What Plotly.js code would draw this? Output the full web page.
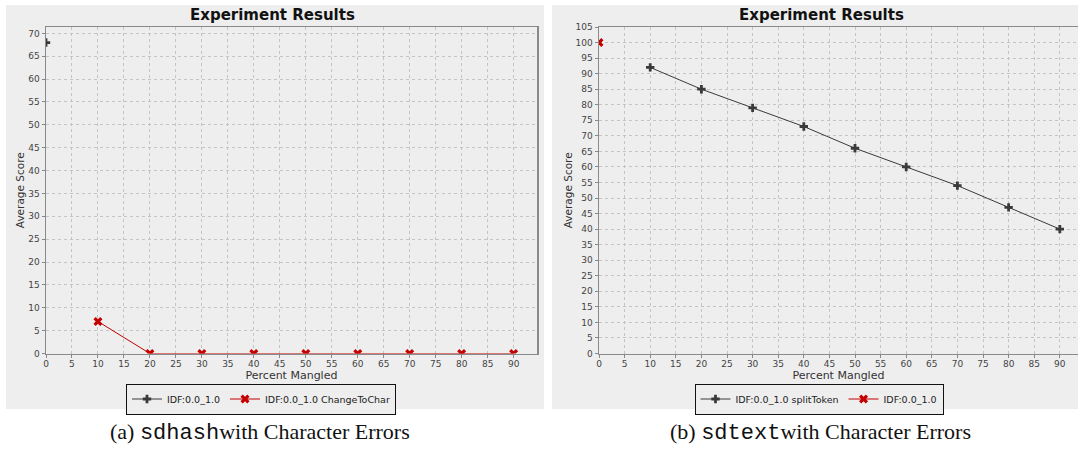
<!DOCTYPE html>
<html>
<head>
<meta charset="utf-8">
<script src="https://cdn.plot.ly/plotly-3.0.1.min.js"></script>
<style>
  html, body { margin: 0; padding: 0; background: #ffffff; }
  #chart { width: 1078px; height: 449px; }
</style>
</head>
<body>
<div id="chart"></div>
<script>
// (a) sdhash with character errors
const sdhashBaselineX = [0];
const sdhashBaseline = [68];
const sdhashChangeX = [10, 20, 30, 40, 50, 60, 70, 80, 90];
const sdhashChange = [7, 0, 0, 0, 0, 0, 0, 0, 0];

// (b) sdtext with character errors
const sdtextSplitX = [10, 20, 30, 40, 50, 60, 70, 80, 90];
const sdtextSplit = [92, 85, 79, 73, 66, 60, 54, 47, 40];
const sdtextBaselineX = [0];
const sdtextBaseline = [100];

const seriesNames = {
  a: ['IDF:0.0_1.0', 'IDF:0.0_1.0 ChangeToChar'],
  b: ['IDF:0.0_1.0 splitToken', 'IDF:0.0_1.0']
};

const W = 1078, H = 449;
const px = v => v / W;
const py = v => 1 - v / H;

const BLACK = '#3a3a3a';
const RED = '#c40000';
const FONT = 'DejaVu Sans, sans-serif';

const blackMarker = { symbol: 'cross', size: 7, color: BLACK };
const redMarker = { symbol: 'x', size: 8, color: RED };

const traces = [
  { x: sdhashBaselineX, y: sdhashBaseline, name: seriesNames.a[0], mode: 'lines+markers',
    line: { color: BLACK, width: 1 }, marker: blackMarker, xaxis: 'x', yaxis: 'y', legend: 'legend' },
  { x: sdhashChangeX, y: sdhashChange, name: seriesNames.a[1], mode: 'lines+markers',
    line: { color: RED, width: 1 }, marker: redMarker, xaxis: 'x', yaxis: 'y', legend: 'legend' },
  { x: sdtextSplitX, y: sdtextSplit, name: seriesNames.b[0], mode: 'lines+markers',
    line: { color: BLACK, width: 1 }, marker: blackMarker, xaxis: 'x2', yaxis: 'y2', legend: 'legend2' },
  { x: sdtextBaselineX, y: sdtextBaseline, name: seriesNames.b[1], mode: 'lines+markers',
    line: { color: RED, width: 1 }, marker: redMarker, xaxis: 'x2', yaxis: 'y2', legend: 'legend2' }
];

function xAxis(domain, range, anchor) {
  return {
    domain: domain, range: range, anchor: anchor,
    tick0: 0, dtick: 5, ticks: 'outside', ticklen: 3, tickcolor: '#888',
    ticklabelstandoff: -2,
    tickfont: { family: FONT, size: 9, color: '#444' },
    showline: true, linecolor: '#8a8a8a', linewidth: 1.5, mirror: true,
    showgrid: true, gridcolor: '#c4c4c4', griddash: 'dot', gridwidth: 1,
    zeroline: false, fixedrange: true,
    title: { text: 'Percent Mangled', font: { family: FONT, size: 11, color: '#333' }, standoff: 2 }
  };
}
function yAxis(domain, range, anchor) {
  return {
    domain: domain, range: range, anchor: anchor,
    tick0: 0, dtick: 5, ticks: 'outside', ticklen: 3, tickcolor: '#888',
    tickfont: { family: FONT, size: 9, color: '#444' },
    showline: true, linecolor: '#8a8a8a', linewidth: 1.5, mirror: true,
    showgrid: true, gridcolor: '#c4c4c4', griddash: 'dot', gridwidth: 1,
    zeroline: false, fixedrange: true,
    title: { text: 'Average Score', font: { family: FONT, size: 10.5, color: '#333' }, standoff: 1 }
  };
}

const legendStyle = (xc) => ({
  x: px(xc), xanchor: 'center', y: py(399), yanchor: 'middle',
  orientation: 'h', bgcolor: '#eeeeee', bordercolor: '#111', borderwidth: 1,
  font: { family: FONT, size: 9.5, color: '#222' },
  itemwidth: 30, tracegroupgap: 0, itemclick: false
});

const layout = {
  width: W, height: H,
  margin: { l: 0, r: 0, t: 0, b: 0 },
  paper_bgcolor: '#ffffff', plot_bgcolor: '#ffffff',
  showlegend: true,
  xaxis: xAxis([px(46), px(537)], [0, 94.5], 'y'),
  yaxis: yAxis([py(353.5), py(27)], [0, 71.4], 'x'),
  xaxis2: xAxis([px(599), 1], [0, 93.55], 'y2'),
  yaxis2: yAxis([py(353.5), py(27)], [0, 105], 'x2'),
  legend: legendStyle(261),
  legend2: legendStyle(819),
  shapes: [
    { type: 'rect', xref: 'paper', yref: 'paper', layer: 'below',
      x0: px(6), x1: px(544), y0: py(409), y1: py(5), fillcolor: '#eeeeee', line: { width: 0 } },
    { type: 'rect', xref: 'paper', yref: 'paper', layer: 'below',
      x0: px(552), x1: 1, y0: py(409), y1: py(5), fillcolor: '#eeeeee', line: { width: 0 } }
  ],
  annotations: [
    { text: '<b>Experiment Results</b>', xref: 'paper', yref: 'paper', x: px(273), y: py(15),
      xanchor: 'center', yanchor: 'middle', showarrow: false,
      font: { family: FONT, size: 15, color: '#111' } },
    { text: '<b>Experiment Results</b>', xref: 'paper', yref: 'paper', x: px(821), y: py(15),
      xanchor: 'center', yanchor: 'middle', showarrow: false,
      font: { family: FONT, size: 15, color: '#111' } },
    { text: '(a) <span style="font-family:Liberation Mono, monospace">sdhash</span>with Character Errors',
      xref: 'paper', yref: 'paper', x: px(260), y: py(432), xanchor: 'center', yanchor: 'middle',
      showarrow: false, font: { family: 'Liberation Serif, serif', size: 22, color: '#111' } },
    { text: '(b) <span style="font-family:Liberation Mono, monospace">sdtext</span>with Character Errors',
      xref: 'paper', yref: 'paper', x: px(820), y: py(432), xanchor: 'center', yanchor: 'middle',
      showarrow: false, font: { family: 'Liberation Serif, serif', size: 22, color: '#111' } }
  ]
};

Plotly.newPlot('chart', traces, layout, { staticPlot: true, displayModeBar: false });
</script>
</body>
</html>
